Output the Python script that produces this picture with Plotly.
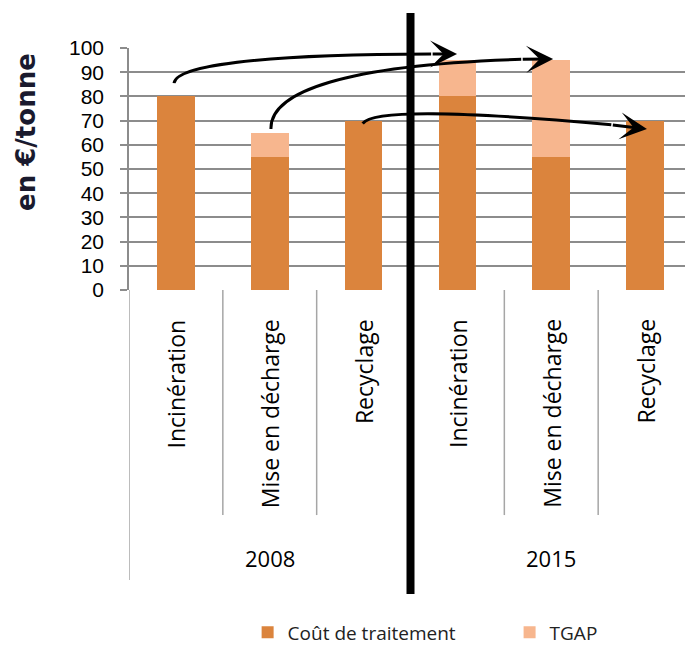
import plotly.graph_objects as go

years = ["2008", "2008", "2008", "2015", "2015", "2015"]
categories = ["Incinération", "Mise en décharge", "Recyclage",
              "Incinération", "Mise en décharge", "Recyclage"]
cout_traitement = [80, 55, 70, 80, 55, 70]
tgap = [0, 10, 0, 15, 40, 0]
y_ticks = [0, 10, 20, 30, 40, 50, 60, 70, 80, 90, 100]

DARK = "#DB843D"
LIGHT = "#F7B68E"
GRID = "#8C8C8C"
SEP = "#A6A6A6"
FONT = "Open Sans"

xpos = list(range(len(categories)))

fig = go.Figure()
fig.add_trace(go.Bar(x=xpos, y=cout_traitement, name="Coût de traitement",
                     marker=dict(color=DARK, line=dict(width=0)),
                     width=0.4, legend="legend"))
fig.add_trace(go.Bar(x=xpos, y=tgap, name="TGAP",
                     marker=dict(color=LIGHT, line=dict(width=0)),
                     width=0.4, legend="legend2"))

shapes = []
n = len(categories)
for i in range(n + 1):
    xb = i - 0.5
    outer = (i == 0) or (i == n) or (years[min(i, n - 1)] != years[i - 1])
    shapes.append(dict(type="line", xref="x", yref="paper", x0=xb, x1=xb,
                       y0=0, y1=(-1.198 if outer else -0.930),
                       line=dict(color=SEP, width=1.5), layer="below"))

shapes.append(dict(type="line", xref="x", yref="paper", x0=2.5, x1=2.5,
                   y0=-1.256, y1=1.145, line=dict(color="black", width=8)))

arrow_paths = [
    ((-0.02, 85.5), (0.0, 92.5), (0.8, 97.3), (2.72, 97.5), (2.996, 97.5)),
    ((1.013, 66.5), (1.0, 82.0), (1.8, 93.0), (3.68, 95.3), (4.02, 95.5)),
    ((1.99, 68.8), (2.1, 74.5), (3.0, 74.0), (4.64, 68.3), (5.02, 66.5)),
]
annotations = []
for p0, c1, c2, p3, tip in arrow_paths:
    shapes.append(dict(type="path", xref="x", yref="y",
                       path=f"M {p0[0]},{p0[1]} C {c1[0]},{c1[1]} {c2[0]},{c2[1]} {p3[0]},{p3[1]}",
                       line=dict(color="black", width=3)))
    annotations.append(dict(x=tip[0], y=tip[1], xref="x", yref="y",
                            ax=p3[0], ay=p3[1], axref="x", ayref="y",
                            text="", showarrow=True, arrowhead=3,
                            arrowsize=1.5, arrowwidth=3, arrowcolor="black"))

for i, c in enumerate(categories):
    annotations.append(dict(x=i, y=-0.1116, xref="x", yref="paper", text=c,
                            textangle=-90, showarrow=False, xanchor="center",
                            yanchor="top", font=dict(family=FONT, size=23, color="black")))
for yr in ["2008", "2015"]:
    idx = [i for i, y in enumerate(years) if y == yr]
    annotations.append(dict(x=sum(idx) / len(idx), y=-1.107, xref="x", yref="paper",
                            text=yr, showarrow=False, xanchor="center", yanchor="middle",
                            font=dict(family=FONT, size=22, color="black")))
annotations.append(dict(x=-0.183, y=0.653, xref="paper", yref="paper",
                        text="<b>en €/tonne</b>", textangle=-90, showarrow=False,
                        xanchor="center", yanchor="middle",
                        font=dict(family="DejaVu Sans", size=26, color="#1a1a2e")))

legend_style = dict(orientation="h", xanchor="left", y=-1.415, yanchor="middle",
                    font=dict(family=FONT, size=19, color="#222"),
                    bgcolor="rgba(0,0,0,0)")

# the page body adds an 8px offset, so the figure is drawn 8px smaller
fig.update_layout(
    width=685, height=638,
    margin=dict(l=121, r=1, t=40, b=356, autoexpand=False),
    barmode="stack",
    plot_bgcolor="white", paper_bgcolor="white",
    showlegend=True,
    legend=dict(x=0.2107, **legend_style),
    legend2=dict(x=0.676, **legend_style),
    xaxis=dict(range=[-0.5, 5.5], showticklabels=False, showgrid=False,
               zeroline=False, ticks="", showline=False, fixedrange=True),
    yaxis=dict(range=[0, 100], tickvals=y_ticks, showgrid=True, gridcolor=GRID,
               gridwidth=2, zeroline=False, showline=True, linecolor=GRID,
               linewidth=1.5, ticks="outside", ticklen=7, tickcolor=GRID,
               tickwidth=2, ticklabelstandoff=12,
               tickfont=dict(family="Liberation Sans", size=21, color="black")),
    shapes=shapes,
    annotations=annotations,
)

fig.write_html("out.html")
